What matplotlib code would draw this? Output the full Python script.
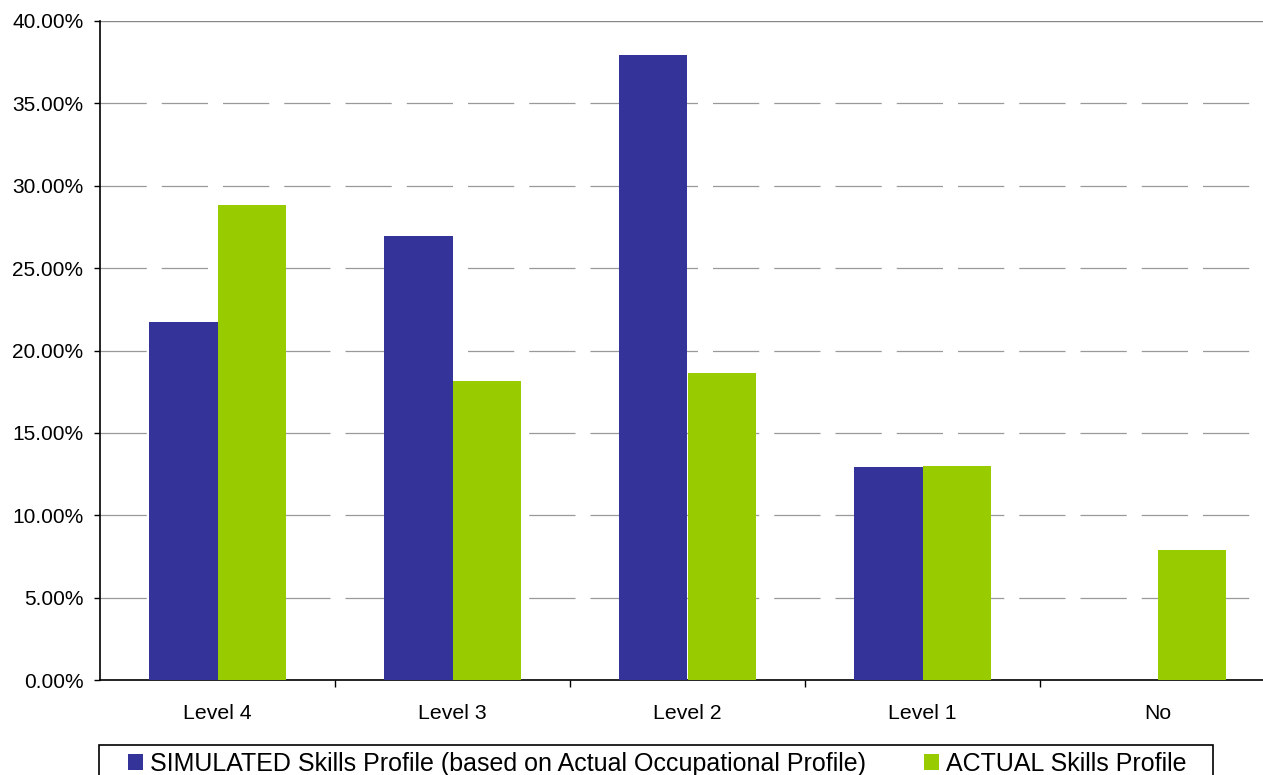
import numpy as np
import matplotlib
matplotlib.use("Agg")
import matplotlib.pyplot as plt
from matplotlib.patches import Rectangle
from matplotlib.ticker import FuncFormatter

plt.rcParams['font.family'] = ['Liberation Sans', 'DejaVu Sans']

# skills profile shares by level (percent)
levels = ["Level 4", "Level 3", "Level 2", "Level 1", "No"]
simulated = [21.7, 26.95, 37.95, 12.9, 0.0]
actual = [28.85, 18.15, 18.65, 13.0, 7.9]
series_names = ["SIMULATED Skills Profile (based on Actual Occupational Profile)",
                "ACTUAL Skills Profile"]

W, H = 1263, 775
fig = plt.figure(figsize=(W/100, H/100), dpi=100)
# plot area runs slightly past the right edge of the figure
ax = fig.add_axes([100/W, 95/H, 1175/W, 659/H])

x = np.arange(len(levels))
w = 0.29
ax.bar(x - w/2, simulated, w, color="#333399", label=series_names[0], zorder=3)
ax.bar(x + w/2, actual, w, color="#99CC00", label=series_names[1], zorder=3)

ax.set_xlim(-0.5, len(levels) - 0.5)
ax.set_ylim(0, 40)
ax.set_yticks(np.arange(0, 40.1, 5))
ax.yaxis.set_major_formatter(FuncFormatter(lambda v, p: "%.2f%%" % v))

# dashed gridlines, solid line on top
for v in np.arange(5, 40, 5):
    ax.axhline(v, color="#999999", lw=0.9, dashes=(37, 12), zorder=1)
ax.axhline(40, color="#888888", lw=1.0, zorder=1)

# categories labelled at centres, ticks at the boundaries
ax.set_xticks(x)
ax.set_xticklabels(levels)
ax.set_xticks(np.arange(0.5, len(levels) - 0.5, 1), minor=True)
ax.tick_params(axis='x', which='major', length=0, pad=17, labelsize=15.3)
ax.tick_params(axis='x', which='minor', length=5, width=1, direction='out')
ax.tick_params(axis='y', length=4, width=1, labelsize=15, pad=8)

for s in ["top", "right"]:
    ax.spines[s].set_visible(False)
ax.spines["left"].set_linewidth(1.2)
ax.spines["bottom"].set_linewidth(1.2)

# legend entries without their own frame, boxed separately
leg = fig.legend(loc='upper left', bbox_to_anchor=(128/W, 1 - 752/H),
                 ncol=2, fontsize=18, frameon=False,
                 handlelength=0.6, handleheight=0.6,
                 handletextpad=0.3, columnspacing=2.3, borderpad=0,
                 borderaxespad=0)
fig.patches.append(Rectangle((99/W, -10/H), (1213 - 99)/W, (H - 745 + 10)/H,
                             transform=fig.transFigure, fill=False,
                             edgecolor='black', lw=1.2))

fig.savefig("out.png", dpi=100)
